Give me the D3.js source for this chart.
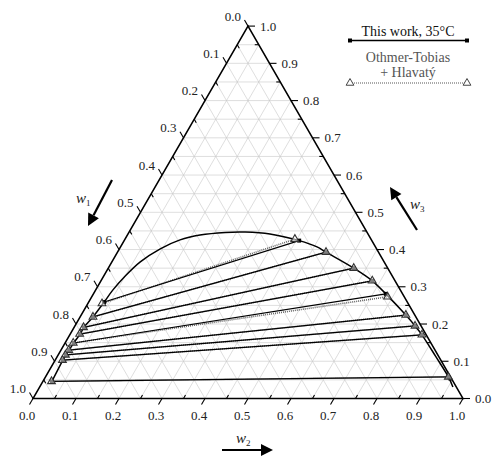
<!DOCTYPE html>
<html>
<head>
<meta charset="utf-8">
<script src="https://cdn.jsdelivr.net/npm/d3@7"></script>
<style>
  body { margin: 0; background: #fff; }
  text { font-family: "Liberation Serif", "Times New Roman", serif; }
</style>
</head>
<body>
<script>
// Data: compositions as [w1, w2, w3]
// experimental tie lines, this work 35°C
var expRaffinate = [
  [0.705, 0.036, 0.259], [0.751, 0.030, 0.219], [0.786, 0.023, 0.191],
  [0.804, 0.023, 0.173], [0.831, 0.020, 0.149], [0.851, 0.019, 0.130],
  [0.865, 0.018, 0.117], [0.879, 0.018, 0.103], [0.933, 0.021, 0.046]
];
var expExtract = [
  [0.169, 0.407, 0.424], [0.122, 0.485, 0.393], [0.079, 0.571, 0.350],
  [0.053, 0.631, 0.316], [0.039, 0.680, 0.281], [0.021, 0.755, 0.224],
  [0.014, 0.791, 0.195], [0.010, 0.819, 0.171], [0.005, 0.937, 0.058]
];
// Othmer-Tobias + Hlavaty correlated tie lines
var otRaffinate = [
  [0.712, 0.033, 0.255], [0.751, 0.030, 0.219], [0.787, 0.022, 0.191],
  [0.805, 0.022, 0.173], [0.832, 0.019, 0.149], [0.852, 0.018, 0.130],
  [0.866, 0.017, 0.117], [0.880, 0.017, 0.103], [0.934, 0.020, 0.046]
];
var otExtract = [
  [0.177, 0.395, 0.428], [0.122, 0.485, 0.393], [0.079, 0.571, 0.350],
  [0.053, 0.631, 0.316], [0.039, 0.688, 0.273], [0.021, 0.755, 0.224],
  [0.014, 0.791, 0.195], [0.010, 0.819, 0.171], [0.005, 0.937, 0.058]
];
// binodal curve, [w2, w3]
var binodal = [
  [0.021, 0.046], [0.018, 0.103], [0.018, 0.117], [0.019, 0.130],
  [0.020, 0.149], [0.023, 0.173], [0.023, 0.191], [0.030, 0.219],
  [0.036, 0.259], [0.040, 0.291], [0.050, 0.329], [0.066, 0.367],
  [0.095, 0.402], [0.129, 0.426], [0.169, 0.439], [0.224, 0.446],
  [0.270, 0.447], [0.330, 0.442], [0.407, 0.424], [0.457, 0.407],
  [0.485, 0.393], [0.571, 0.350], [0.631, 0.316], [0.680, 0.281],
  [0.755, 0.224], [0.791, 0.195], [0.819, 0.171], [0.880, 0.113],
  [0.937, 0.058], [0.961, 0.031]
];
var tickValues = d3.range(0, 1.0001, 0.1);
var minorValues = d3.range(0.05, 1, 0.1);
var gridValues = d3.range(0.05, 1, 0.05);

// Constants
var w = 493, h = 456;

var svg = d3.select('body').append('svg')
            .attr('width', w)
            .attr('height', h);

// base scale (w2) and height scale (w3)
var xScale = d3.scaleLinear().domain([0, 1]).range([33, 463]);
var yScale = d3.scaleLinear().domain([0, 1]).range([398.5, 26.1]);

function pt(w2, w3) {
  return [xScale(w2 + w3 / 2), yScale(w3)];
}

var line = d3.line();

// grid
var grid = svg.append('g')
  .attr('stroke', '#c8c8c8')
  .attr('stroke-width', 0.6)
  .attr('fill', 'none');
gridValues.forEach(function(v) {
  // constant w3 (horizontal)
  grid.append('path').attr('d', line([pt(0, v), pt(1 - v, v)]));
  // constant w2
  grid.append('path').attr('d', line([pt(v, 0), pt(v, 1 - v)]));
  // constant w1
  grid.append('path').attr('d', line([pt(1 - v, 0), pt(0, 1 - v)]));
});

// triangle outline
svg.append('path')
  .attr('d', line([pt(0, 0), pt(1, 0), pt(0, 1)]) + 'Z')
  .attr('fill', 'none')
  .attr('stroke', '#000')
  .attr('stroke-width', 1.5);

// ticks
var ticks = svg.append('g').attr('stroke', '#000').attr('stroke-width', 1.1);
var dirBase = [-0.5, 0.866], dirLeft = [-0.5, -0.866], dirRight = [1, 0];
function tick(p, d, len) {
  ticks.append('path').attr('d', line([p, [p[0] + d[0] * len, p[1] + d[1] * len]]));
}
tickValues.forEach(function(v) {
  tick(pt(v, 0), dirBase, 7);
  tick(pt(0, 1 - v), dirLeft, 7);
  tick(pt(1 - v, v), dirRight, 7);
});
minorValues.forEach(function(v) {
  tick(pt(v, 0), dirBase, -4);
  tick(pt(0, 1 - v), dirLeft, -4);
  tick(pt(1 - v, v), dirRight, -4);
});

// tick labels
var labels = svg.append('g').attr('font-size', 13).attr('fill', '#222');
tickValues.forEach(function(v) {
  var pb = pt(v, 0);
  labels.append('text').attr('x', pb[0] - 6).attr('y', pb[1] + 21)
    .attr('text-anchor', 'middle').text(d3.format('.1f')(v));
  var pl = pt(0, 1 - v);
  labels.append('text').attr('x', pl[0] - 7).attr('y', pl[1] - 5.5)
    .attr('text-anchor', 'end').text(d3.format('.1f')(v));
  var pr = pt(1 - v, v);
  labels.append('text').attr('x', pr[0] + 12).attr('y', pr[1] + 4.5)
    .attr('text-anchor', 'start').text(d3.format('.1f')(v));
});

// binodal curve
svg.append('path')
  .attr('d', d3.line().curve(d3.curveCatmullRom.alpha(0.5))(binodal.map(function(d) { return pt(d[0], d[1]); })))
  .attr('fill', 'none')
  .attr('stroke', '#000')
  .attr('stroke-width', 1.5);

// Othmer-Tobias tie lines (dotted, under the experimental ones)
svg.append('g').selectAll('path')
  .data(d3.zip(otRaffinate, otExtract))
  .enter().append('path')
  .attr('d', function(d) { return line([pt(d[0][1], d[0][2]), pt(d[1][1], d[1][2])]); })
  .attr('stroke', '#666')
  .attr('stroke-width', 1.6)
  .attr('stroke-dasharray', '1,1')
  .attr('fill', 'none');

// experimental tie lines
svg.append('g').selectAll('path')
  .data(d3.zip(expRaffinate, expExtract))
  .enter().append('path')
  .attr('d', function(d) { return line([pt(d[0][1], d[0][2]), pt(d[1][1], d[1][2])]); })
  .attr('stroke', '#000')
  .attr('stroke-width', 1.2)
  .attr('fill', 'none');

var square = d3.symbol().type(d3.symbolSquare).size(16);
var triangle = d3.symbol().type(d3.symbolTriangle).size(26);

svg.append('g').selectAll('path')
  .data(expRaffinate.concat(expExtract))
  .enter().append('path')
  .attr('d', square)
  .attr('transform', function(d) { return 'translate(' + pt(d[1], d[2]) + ')'; })
  .attr('fill', '#000');

svg.append('g').selectAll('path')
  .data(otRaffinate.concat(otExtract))
  .enter().append('path')
  .attr('d', triangle)
  .attr('transform', function(d) { return 'translate(' + pt(d[1], d[2]) + ')'; })
  .attr('fill', '#fff')
  .attr('fill-opacity', 0.5)
  .attr('stroke', '#333')
  .attr('stroke-width', 1.1);

// axis name arrows
function arrow(x1, y1, x2, y2) {
  var a = Math.atan2(y2 - y1, x2 - x1), s = 12, hw = 6;
  var bx = x2 - s * Math.cos(a), by = y2 - s * Math.sin(a);
  svg.append('path').attr('d', line([[x1, y1], [bx, by]]))
    .attr('stroke', '#000').attr('stroke-width', 2.2);
  svg.append('path')
    .attr('d', line([[x2, y2],
      [bx + hw * Math.sin(a), by - hw * Math.cos(a)],
      [bx - hw * Math.sin(a), by + hw * Math.cos(a)]]) + 'Z')
    .attr('fill', '#000');
}
arrow(112, 180, 88, 226);
arrow(417, 230, 390, 187);
arrow(222, 450, 273, 450);

function wLabel(x, y, sub) {
  var t = svg.append('text').attr('x', x).attr('y', y)
    .attr('font-size', 15).attr('font-style', 'italic').attr('fill', '#222');
  t.append('tspan').text('w');
  t.append('tspan').attr('font-size', 9).attr('font-style', 'normal')
    .attr('dy', 3).text(sub);
}
wLabel(76, 203, '1');
wLabel(410, 209, '3');
wLabel(236, 443, '2');

// legend
var legend = svg.append('g');
legend.append('text').attr('x', 408).attr('y', 36).attr('text-anchor', 'middle')
  .attr('font-size', 14).attr('fill', '#111').text('This work, 35°C');
legend.append('path').attr('d', line([[350, 40.5], [467, 40.5]]))
  .attr('stroke', '#000').attr('stroke-width', 1.5);
[350, 467].forEach(function(x) {
  legend.append('path').attr('d', square).attr('transform', 'translate(' + x + ',40.5)').attr('fill', '#000');
});
legend.append('text').attr('x', 408).attr('y', 62).attr('text-anchor', 'middle')
  .attr('font-size', 14).attr('fill', '#555').text('Othmer-Tobias');
legend.append('text').attr('x', 408).attr('y', 77).attr('text-anchor', 'middle')
  .attr('font-size', 14).attr('fill', '#555').text('+ Hlavatý');
legend.append('path').attr('d', line([[350, 83], [467, 83]]))
  .attr('stroke', '#555').attr('stroke-width', 1).attr('stroke-dasharray', '1,1');
[350, 467].forEach(function(x) {
  legend.append('path').attr('d', triangle).attr('transform', 'translate(' + x + ',83)')
    .attr('fill', '#fff').attr('stroke', '#444').attr('stroke-width', 1);
});
</script>
</body>
</html>
